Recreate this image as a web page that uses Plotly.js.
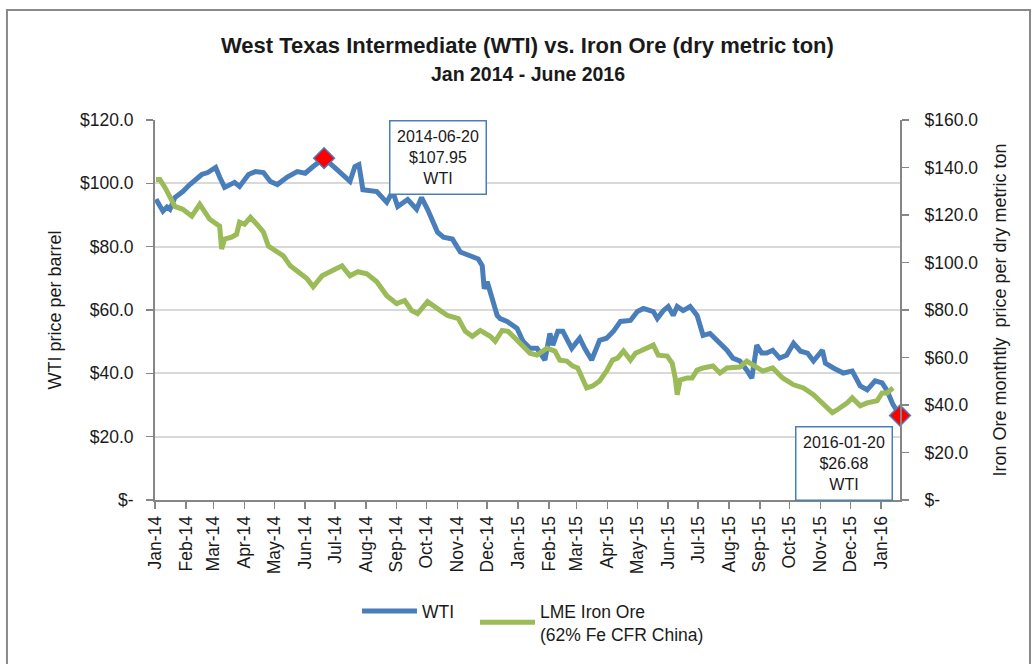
<!DOCTYPE html>
<html>
<head>
<meta charset="utf-8">
<script src="https://cdn.plot.ly/plotly-3.0.1.min.js"></script>
<style>
  html, body { margin: 0; padding: 0; background: #ffffff; }
  #chart { width: 1035px; height: 664px; }
</style>
</head>
<body>
<div id="chart"></div>
<script>
// ---------------- DATA ----------------
const wtiDates = [
  '2014-01-02','2014-01-09','2014-01-13','2014-01-16','2014-01-21','2014-01-29','2014-02-05','2014-02-17','2014-02-23',
  '2014-03-03','2014-03-07','2014-03-12','2014-03-22','2014-03-27','2014-04-05','2014-04-12','2014-04-20','2014-04-27',
  '2014-05-04','2014-05-14','2014-05-24','2014-06-01','2014-06-09','2014-06-20','2014-07-03','2014-07-16','2014-07-21',
  '2014-07-25','2014-07-29','2014-08-12','2014-08-22','2014-08-28','2014-09-02','2014-09-12','2014-09-21','2014-09-26',
  '2014-10-02','2014-10-12','2014-10-18','2014-10-27','2014-11-04','2014-11-14','2014-11-22','2014-11-26','2014-11-28',
  '2014-12-01','2014-12-11','2014-12-14','2014-12-21','2014-12-31','2015-01-06','2015-01-10','2015-01-13','2015-01-20',
  '2015-01-28','2015-02-02','2015-02-05','2015-02-10','2015-02-15','2015-02-24','2015-03-04','2015-03-09','2015-03-16',
  '2015-03-24','2015-03-31','2015-04-07','2015-04-14','2015-04-24','2015-05-01','2015-05-07','2015-05-17','2015-05-21',
  '2015-05-27','2015-06-01','2015-06-06','2015-06-10','2015-06-16','2015-06-23','2015-06-30','2015-07-06','2015-07-13',
  '2015-07-23','2015-07-30','2015-08-05','2015-08-12','2015-08-19','2015-08-24','2015-08-29','2015-09-03','2015-09-08',
  '2015-09-14','2015-09-21','2015-09-28','2015-10-05','2015-10-12','2015-10-19','2015-10-25','2015-11-03','2015-11-06',
  '2015-11-14','2015-11-24','2015-12-03','2015-12-11','2015-12-18','2015-12-26','2016-01-02','2016-01-07','2016-01-13',
  '2016-01-20'
];
const wtiPrice = [
  95.0, 91.2, 92.5, 91.8, 95.5, 97.4, 99.6, 102.8, 103.4,
  105.0, 102.0, 98.7, 100.3, 99.0, 102.8, 103.7, 103.4, 100.6,
  99.6, 102.0, 103.7, 103.2, 105.3, 107.95, 104.3, 100.6, 105.3,
  105.9, 98.0, 97.4, 94.0, 97.4, 92.7, 94.9, 91.8, 95.5,
  91.8, 84.6, 83.0, 82.4, 78.3, 77.0, 76.1, 74.0, 66.7,
  68.9, 58.3, 57.3, 56.4, 54.2, 50.1, 48.9, 47.9, 47.9,
  44.2, 52.6, 48.9, 53.3, 53.3, 47.9, 51.1, 47.9, 44.2,
  50.4, 51.1, 53.3, 56.4, 56.7, 59.5, 60.5, 59.5, 57.3,
  59.8, 61.1, 58.3, 61.1, 59.8, 61.1, 58.3, 52.0, 52.6,
  49.5, 47.3, 44.8, 43.9, 41.0, 38.5, 48.9, 46.4, 46.4,
  47.3, 44.8, 45.7, 49.5, 47.0, 46.4, 43.9, 47.3, 43.2,
  41.7, 40.1, 40.7, 36.0, 34.8, 37.6, 37.0, 34.5, 30.1,
  26.68
];

const ironDates = [
  '2014-01-02','2014-01-06','2014-01-11','2014-01-16','2014-01-21','2014-01-29','2014-02-07','2014-02-15','2014-02-20',
  '2014-02-25','2014-03-07','2014-03-09','2014-03-12','2014-03-19','2014-03-24','2014-03-27','2014-04-01','2014-04-07',
  '2014-04-14','2014-04-20','2014-04-25','2014-05-02','2014-05-10','2014-05-17','2014-05-25','2014-06-03','2014-06-09',
  '2014-06-18','2014-06-28','2014-07-08','2014-07-16','2014-07-24','2014-08-02','2014-08-12','2014-08-22','2014-09-01',
  '2014-09-09','2014-09-16','2014-09-22','2014-10-02','2014-10-12','2014-10-22','2014-11-02','2014-11-09','2014-11-16',
  '2014-11-24','2014-12-04','2014-12-09','2014-12-16','2014-12-22','2014-12-31','2015-01-06','2015-01-13','2015-01-20',
  '2015-01-30','2015-02-07','2015-02-12','2015-02-19','2015-02-25','2015-03-02','2015-03-07','2015-03-11','2015-03-17',
  '2015-03-24','2015-03-31','2015-04-06','2015-04-11','2015-04-17','2015-04-24','2015-04-29','2015-05-04','2015-05-12',
  '2015-05-17','2015-05-22','2015-05-31','2015-06-05','2015-06-08','2015-06-10','2015-06-13','2015-06-20','2015-06-25',
  '2015-06-30','2015-07-06','2015-07-16','2015-07-23','2015-07-30','2015-08-12','2015-08-19','2015-08-25','2015-09-04',
  '2015-09-14','2015-09-24','2015-10-05','2015-10-15','2015-10-25','2015-11-04','2015-11-13','2015-11-18','2015-11-28',
  '2015-12-03','2015-12-11','2015-12-18','2015-12-28','2016-01-02','2016-01-07','2016-01-13'
];
const ironPrice = [
  134.9, 134.9, 131.6, 127.8, 123.6, 122.4, 119.5, 124.5, 121.6,
  118.2, 115.3, 105.7, 109.9, 110.7, 111.9, 117.0, 116.1, 119.0,
  115.8, 112.8, 106.9, 104.8, 102.8, 98.6, 96.1, 93.1, 89.8,
  94.4, 96.5, 98.6, 94.4, 96.1, 95.2, 91.9, 86.0, 82.7,
  84.0, 79.8, 78.5, 83.5, 80.6, 77.7, 76.4, 71.0, 68.9,
  71.4, 68.9, 66.8, 71.4, 71.0, 67.3, 64.7, 61.8, 61.0,
  63.9, 62.7, 58.9, 58.5, 56.4, 55.6, 50.5, 47.2, 48.0,
  50.1, 54.3, 58.9, 59.7, 62.7, 58.9, 61.8, 62.7, 63.9,
  65.2, 61.0, 60.6, 57.6, 51.4, 44.3, 50.5, 51.4, 51.4,
  54.7, 55.6, 56.4, 53.5, 55.6, 56.0, 58.5, 56.8, 54.3,
  55.6, 51.4, 48.5, 47.2, 44.3, 40.1, 36.8, 38.0, 40.9,
  43.0, 39.7, 40.9, 41.8, 45.1, 45.1, 47.2
];

const highlightDates = ['2014-06-20', '2016-01-20'];
const highlightPrice = [107.95, 26.68];
const highlightLabel = ['WTI', 'WTI'];

const monthTicks = [
  '2014-01-01','2014-02-01','2014-03-01','2014-04-01','2014-05-01','2014-06-01','2014-07-01','2014-08-01','2014-09-01',
  '2014-10-01','2014-11-01','2014-12-01','2015-01-01','2015-02-01','2015-03-01','2015-04-01','2015-05-01','2015-06-01',
  '2015-07-01','2015-08-01','2015-09-01','2015-10-01','2015-11-01','2015-12-01','2016-01-01'
];
const monthLabels = [
  'Jan-14','Feb-14','Mar-14','Apr-14','May-14','Jun-14','Jul-14','Aug-14','Sep-14','Oct-14','Nov-14','Dec-14',
  'Jan-15','Feb-15','Mar-15','Apr-15','May-15','Jun-15','Jul-15','Aug-15','Sep-15','Oct-15','Nov-15','Dec-15','Jan-16'
];
const wtiTickVals = [0, 20, 40, 60, 80, 100, 120];
const wtiTickText = ['$-', '$20.0', '$40.0', '$60.0', '$80.0', '$100.0', '$120.0'];
const ironTickVals = [0, 20, 40, 60, 80, 100, 120, 140, 160];
const ironTickText = ['$-', '$20.0', '$40.0', '$60.0', '$80.0', '$100.0', '$120.0', '$140.0', '$160.0'];

// ---------------- STYLE ----------------
const FONT = 'Liberation Sans, Arial, sans-serif';
const BLUE = '#4a7ebb';
const GREEN = '#9bbb59';
const AXIS = '#868686';
const GRID = '#d9d9d9';
const TXT = '#1a1a1a';

const traces = [
  {
    x: wtiDates, y: wtiPrice, name: 'WTI', type: 'scatter', mode: 'lines',
    line: { color: BLUE, width: 5 }, yaxis: 'y', hoverinfo: 'x+y', legendwidth: 48
  },
  {
    x: ironDates, y: ironPrice, name: 'LME Iron Ore<br>(62% Fe CFR China)', type: 'scatter', mode: 'lines',
    line: { color: GREEN, width: 5 }, yaxis: 'y2', hoverinfo: 'x+y', legendwidth: 175
  },
  {
    x: highlightDates, y: highlightPrice, type: 'scatter', mode: 'markers', showlegend: false,
    marker: { symbol: 'diamond', size: 16, color: '#ff0000', line: { color: BLUE, width: 1.5 } },
    cliponaxis: false, yaxis: 'y', hoverinfo: 'x+y'
  }
];

function boxText(i) {
  return highlightDates[i] + '<br>$' + highlightPrice[i].toFixed(2) + '<br>' + highlightLabel[i];
}
const boxStyle = {
  showarrow: false, xref: 'x', yref: 'y',
  font: { family: FONT, size: 16, color: TXT },
  bgcolor: '#ffffff', bordercolor: BLUE, borderwidth: 1.5, borderpad: 2,
  width: 91, height: 68, align: 'center', valign: 'middle'
};

const layout = {
  width: 1035, height: 664,
  margin: { l: 155, r: 135, t: 120, b: 161, pad: 0 },
  paper_bgcolor: '#ffffff', plot_bgcolor: '#ffffff',
  font: { family: FONT, color: TXT },
  showlegend: true,
  legend: {
    orientation: 'h', x: 0.2711, xanchor: 'left', y: -0.245, yanchor: 'top',
    font: { family: FONT, size: 17.5, color: TXT }, itemwidth: 55,
    tracegroupgap: 0, bgcolor: 'rgba(0,0,0,0)'
  },
  xaxis: {
    type: 'date', range: ['2014-01-01', '2016-01-20'],
    tickvals: monthTicks, ticktext: monthLabels, tickangle: -90,
    tickfont: { family: FONT, size: 17.5, color: TXT },
    ticks: 'outside', ticklen: 7, tickwidth: 1.5, tickcolor: AXIS,
    showline: true, linecolor: AXIS, linewidth: 2,
    showgrid: false, zeroline: false, fixedrange: true
  },
  yaxis: {
    range: [0, 120], tickvals: wtiTickVals, ticktext: wtiTickText,
    tickfont: { family: FONT, size: 17.5, color: TXT },
    ticks: 'outside', ticklen: 7, tickwidth: 1.5, tickcolor: AXIS, ticklabelstandoff: 9,
    showline: true, linecolor: AXIS, linewidth: 2,
    showgrid: true, gridcolor: GRID, gridwidth: 2, zeroline: false,
    title: { text: 'WTI price per barrel', font: { family: FONT, size: 18, color: TXT }, standoff: 14 }
  },
  yaxis2: {
    overlaying: 'y', side: 'right', range: [0, 160], tickvals: ironTickVals, ticktext: ironTickText,
    tickfont: { family: FONT, size: 17.5, color: TXT },
    ticks: 'outside', ticklen: 7, tickwidth: 1.5, tickcolor: AXIS, ticklabelstandoff: 12,
    showline: true, linecolor: AXIS, linewidth: 2,
    showgrid: false, zeroline: false,
    title: { text: 'Iron Ore monthtly  price per dry metric ton', font: { family: FONT, size: 18, color: TXT }, standoff: 16 }
  },
  annotations: [
    {
      text: 'West Texas Intermediate (WTI) vs. Iron Ore (dry metric ton)', xref: 'paper', yref: 'paper',
      x: 0.5, y: 1.196, xanchor: 'center', yanchor: 'middle', showarrow: false,
      font: { family: FONT, size: 22, color: TXT, weight: 700 }
    },
    {
      text: 'Jan 2014 - June 2016', xref: 'paper', yref: 'paper',
      x: 0.5, y: 1.122, xanchor: 'center', yanchor: 'middle', showarrow: false,
      font: { family: FONT, size: 19.5, color: TXT, weight: 700 }
    },
    Object.assign({}, boxStyle, { text: boxText(0), x: highlightDates[0], y: highlightPrice[0], xshift: 114, yshift: 1 }),
    Object.assign({}, boxStyle, { text: boxText(1), x: highlightDates[1], y: highlightPrice[1], xshift: -56, yshift: -48 })
  ],
  shapes: [
    {
      type: 'rect', xref: 'paper', yref: 'paper', x0: -0.1987, x1: 1.1745, y0: -0.5, y1: 1.2898,
      line: { color: '#8a8a8a', width: 2 }, fillcolor: 'rgba(0,0,0,0)', layer: 'below'
    }
  ]
};

Plotly.newPlot('chart', traces, layout, { displayModeBar: false, staticPlot: true });
</script>
</body>
</html>
